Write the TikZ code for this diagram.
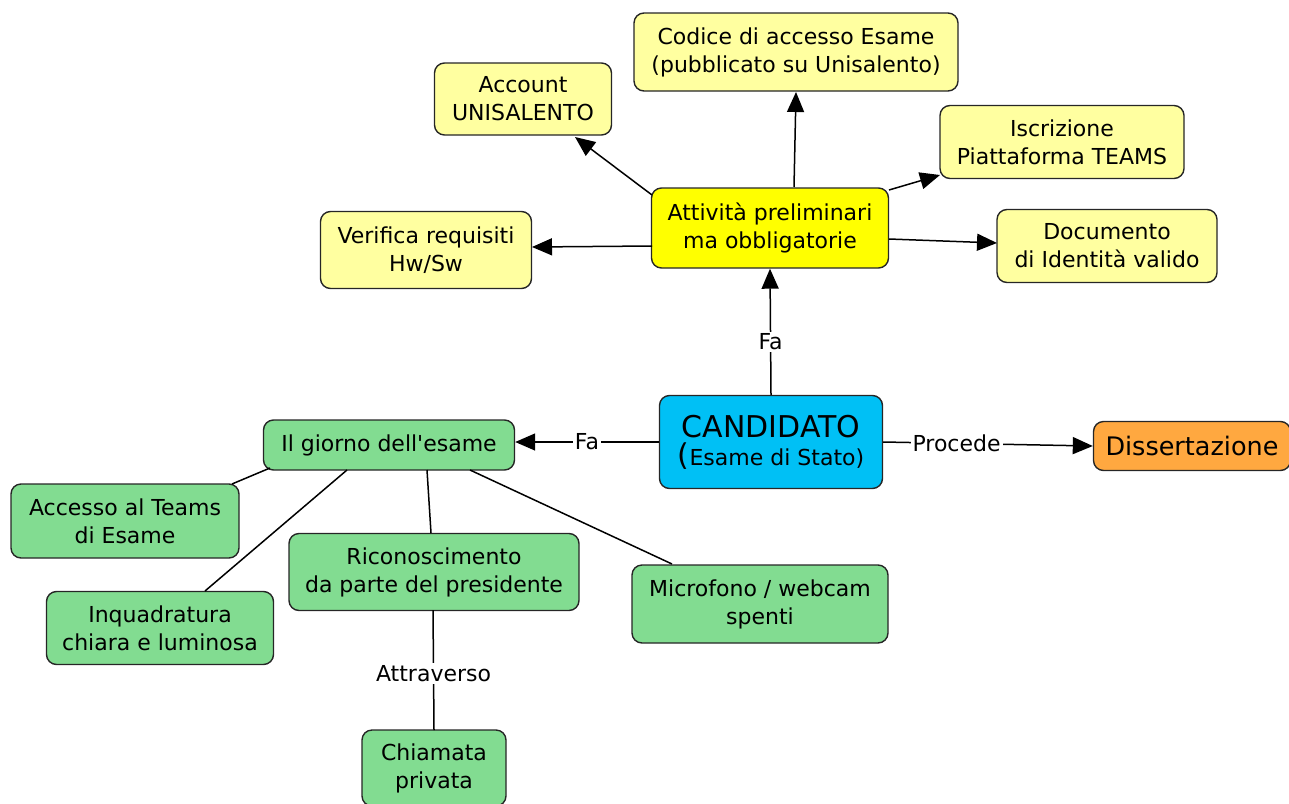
\documentclass[tikz,border=0pt]{standalone}
\usepackage{fontspec}
\setmainfont{DejaVu Sans}[Ligatures=TeXOff]
\usetikzlibrary{arrows.meta}
\definecolor{ly}{RGB}{255,255,160}
\definecolor{yy}{RGB}{255,255,0}
\definecolor{cy}{RGB}{0,192,245}
\definecolor{og}{RGB}{255,168,64}
\definecolor{gr}{RGB}{130,220,145}
\begin{document}
\begin{tikzpicture}[x=1pt,y=-1pt,
  box/.style={draw=black!85,line width=1.4pt,rounded corners=10pt,align=center,inner sep=0pt,
    font=\fontsize{22}{28}\selectfont},
  lab/.style={fill=white,inner sep=2pt,font=\fontsize{22}{24}\selectfont},
  arr/.style={line width=1.5pt,-{Triangle[length=20pt,width=17pt]}},
  ln/.style={line width=1.5pt}]
\useasboundingbox (0,0) rectangle (1289,803);
\node[box,fill=ly,minimum width=324pt,minimum height=78pt] (cod) at (796,52) {Codice di accesso Esame\\(pubblicato su Unisalento)};
\node[box,fill=ly,minimum width=177pt,minimum height=72pt] (acc) at (523,99) {Account\\UNISALENTO};
\node[box,fill=ly,minimum width=244pt,minimum height=73pt] (isc) at (1062,142) {Iscrizione\\Piattaforma TEAMS};
\node[box,fill=yy,minimum width=237pt,minimum height=80pt] (att) at (770,228) {Attività preliminari\\ma obbligatorie};
\node[box,fill=ly,minimum width=211pt,minimum height=77pt] (ver) at (426,250) {Verifica requisiti\\Hw/Sw};
\node[box,fill=ly,minimum width=220pt,minimum height=73pt] (doc) at (1107,246) {Documento\\di Identità valido};
\node[box,fill=cy,minimum width=223pt,minimum height=93pt] (can) at (771,442) {{\fontsize{30}{38}\selectfont CANDIDATO}\\{\fontsize{30}{36}\selectfont(}Esame di Stato)};
\node[box,fill=gr,minimum width=251pt,minimum height=50pt] (gio) at (389,445) {Il giorno dell'esame};
\node[box,fill=og,minimum width=197pt,minimum height=49pt,font=\fontsize{25.5}{30}\selectfont] (dis) at (1192,446) {Dissertazione};
\node[box,fill=gr,minimum width=228pt,minimum height=74pt] (ace) at (125,521) {Accesso al Teams\\di Esame};
\node[box,fill=gr,minimum width=290pt,minimum height=77pt] (ric) at (434,572) {Riconoscimento\\da parte del presidente};
\node[box,fill=gr,minimum width=256pt,minimum height=78pt] (mic) at (760,604) {Microfono / webcam\\spenti};
\node[box,fill=gr,minimum width=227pt,minimum height=73pt] (inq) at (160,628) {Inquadratura\\chiara e luminosa};
\node[box,fill=gr,minimum width=144pt,minimum height=76pt] (chi) at (434,768) {Chiamata\\privata};

\draw[arr] (can.north) -- node[lab,pos=0.42] {Fa} (att.south);
\draw[arr] (can.west) -- node[lab] {Fa} (gio.east |- can.west);
\draw[arr] (can.east) -- node[lab,pos=0.35] {Procede} (dis.west);
\coordinate (s1) at (652,195);
\coordinate (t1) at (575,137);
\coordinate (t2) at (796,92);
\coordinate (s2) at (794,187);
\coordinate (s3) at (889,190);
\coordinate (t3) at (940,175);
\coordinate (s4) at (652,246);
\coordinate (t4) at (532,247);
\coordinate (s5) at (889,239);
\coordinate (t5) at (997,243);
\draw[arr] (s1) -- (t1);
\draw[arr] (s2) -- (t2);
\draw[arr] (s3) -- (t3);
\draw[arr] (s4) -- (t4);
\draw[arr] (s5) -- (t5);
\coordinate (g1) at (270,468);
\coordinate (e1) at (232,484);
\coordinate (g2) at (347,470);
\coordinate (e2) at (205,591);
\coordinate (g3) at (427,470);
\coordinate (e3) at (431,533);
\coordinate (g4) at (470,470);
\coordinate (e4) at (672,564);
\draw[ln] (g1) -- (e1);
\draw[ln] (g2) -- (e2);
\draw[ln] (g3) -- (e3);
\draw[ln] (g4) -- (e4);
\coordinate (r1) at (433,610);
\coordinate (r2) at (434,730);
\draw[ln] (r1) -- node[lab,pos=0.53] {Attraverso} (r2);
\end{tikzpicture}
\end{document}
